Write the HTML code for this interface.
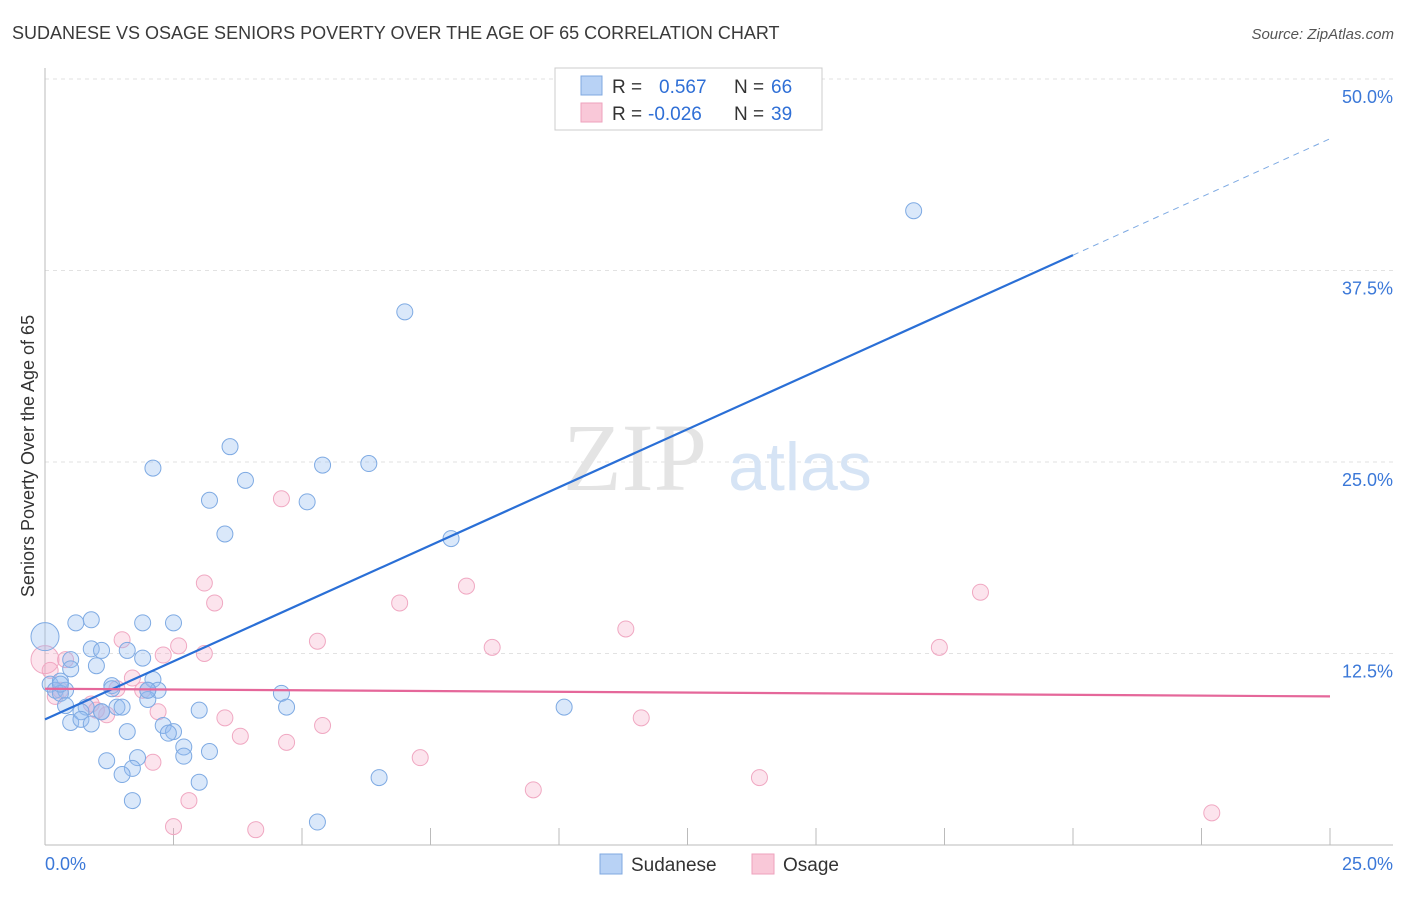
<!DOCTYPE html>
<html><head><meta charset="utf-8"><style>
body{margin:0;background:#fff;font-family:"Liberation Sans",sans-serif}
svg text{font-family:"Liberation Sans",sans-serif}
</style></head><body>
<svg id="c" width="1406" height="892" xmlns="http://www.w3.org/2000/svg">
<text x="12" y="39" font-size="18" fill="#3a3a3a">SUDANESE VS OSAGE SENIORS POVERTY OVER THE AGE OF 65 CORRELATION CHART</text>
<text x="1394" y="39" font-size="15" fill="#555" text-anchor="end" font-style="italic">Source: ZipAtlas.com</text>
<text transform="translate(34,456) rotate(-90)" font-size="18" fill="#333" text-anchor="middle">Seniors Poverty Over the Age of 65</text>
<g id="grid"></g>
<text x="635" y="490" font-size="96" fill="#e4e4e4" text-anchor="middle" style="font-family:'Liberation Serif',serif">ZIP</text>
<text x="800" y="490" font-size="68" fill="#d6e4f5" text-anchor="middle">atlas</text>
<g id="marks"></g>
<g>
<rect x="555" y="68" width="267" height="62" fill="#fff" stroke="#ccc"/>
<rect x="581" y="76" width="21" height="19" fill="#b8d2f5" stroke="#7fa8e0"/>
<rect x="581" y="103" width="21" height="19" fill="#f9c8d8" stroke="#eea2bd"/>
<text x="612" y="93" font-size="19" fill="#333">R = </text><text x="659" y="93" font-size="19" fill="#2f6fd6">0.567</text>
<text x="734" y="93" font-size="19" fill="#333">N = </text><text x="771" y="93" font-size="19" fill="#2f6fd6">66</text>
<text x="612" y="120" font-size="19" fill="#333">R = </text><text x="648" y="120" font-size="19" fill="#2f6fd6">-0.026</text>
<text x="734" y="120" font-size="19" fill="#333">N = </text><text x="771" y="120" font-size="19" fill="#2f6fd6">39</text>
</g>
<g>
<rect x="600" y="854" width="22" height="20" fill="#b8d2f5" stroke="#7fa8e0"/>
<text x="631" y="871" font-size="19" fill="#333">Sudanese</text>
<rect x="752" y="854" width="22" height="20" fill="#f9c8d8" stroke="#eea2bd"/>
<text x="783" y="871" font-size="19" fill="#333">Osage</text>
</g>
</svg>
<script>
const xTicks=[0,2.5,5,7.5,10,12.5,15,17.5,20,22.5,25];
const yTicks=[12.5,25,37.5,50];
const yTickLabels=["12.5%","25.0%","37.5%","50.0%"];
const sudaneseX=[16.9,7.0,3.6,2.1,5.4,6.3,3.9,3.2,5.1,3.5,7.9,0.9,0.6,1.9,2.5,0.0,0.9,1.1,1.6,1.9,0.5,0.5,1.0,2.1,0.1,0.3,0.2,0.4,1.3,1.3,2.0,2.2,4.6,0.3,2.0,0.8,1.4,1.5,1.1,3.0,4.7,10.1,0.7,0.5,0.7,0.9,2.3,1.6,2.5,2.4,2.7,3.2,2.7,1.8,1.2,1.7,1.5,6.5,3.0,1.7,5.3,0.3,1.1,0.4,2.0];
const sudaneseY=[41.4,34.8,26.0,24.6,24.8,24.9,23.8,22.5,22.4,20.3,20.0,14.7,14.5,14.5,14.5,13.6,12.8,12.7,12.7,12.2,12.1,11.5,11.7,10.8,10.5,10.7,10.1,10.1,10.4,10.2,10.1,10.1,9.9,9.9,9.5,9.0,9.0,9.0,8.7,8.8,9.0,9.0,8.7,8.0,8.2,7.9,7.8,7.4,7.4,7.3,6.4,6.1,5.8,5.7,5.5,5.0,4.6,4.4,4.1,2.9,1.5,10.5,8.7,9.1,10.1];
const osageX=[4.6,3.1,8.2,18.2,3.3,6.9,11.3,1.5,5.3,2.6,8.7,17.4,2.3,3.1,0.4,0.1,1.7,1.9,1.4,0.2,0.9,2.2,1.2,3.5,11.6,5.4,3.8,4.7,7.3,2.1,13.9,9.5,2.8,2.5,4.1,22.7,0.3,1.0,0.0];
const osageY=[22.6,17.1,16.9,16.5,15.8,15.8,14.1,13.4,13.3,13.0,12.9,12.9,12.4,12.5,12.1,11.4,10.9,10.1,10.2,9.7,9.2,8.7,8.5,8.3,8.3,7.8,7.1,6.7,5.7,5.4,4.4,3.6,2.9,1.2,1.0,2.1,10.1,8.8,12.1];
const blueFit=[0,8.2,20.0,38.5,25,46.1];
const pinkFit=[0,10.2,25,9.7];
const X=v=>45+v/25*1285, Y=v=>845-v/12.5*191.5;
const NS="http://www.w3.org/2000/svg";
function mk(p,t,a){const e=document.createElementNS(NS,t);for(const k in a)e.setAttribute(k,a[k]);p.appendChild(e);return e;}
const g=document.getElementById('grid'),m=document.getElementById('marks');
yTicks.forEach((v,i)=>{
 const l=mk(g,'line',{x1:45,x2:1393,y1:Y(v),y2:Y(v),stroke:'#e2e2e2','stroke-dasharray':'4,4'});
 
 
 const t=mk(g,'text',{x:1393,y:Y(v)+24,'font-size':18,fill:'#3b78d8','text-anchor':'end'});t.textContent=yTickLabels[i];
 
 
});
mk(g,'line',{x1:45,x2:45,y1:68,y2:845,stroke:'#bbb'});
mk(g,'line',{x1:45,x2:1393,y1:845,y2:845,stroke:'#bbb'});
xTicks.forEach(v=>{const l=mk(g,'line',{x1:X(v),x2:X(v),y1:828,y2:845,stroke:'#bbb'});
 
 });
[["0.0%",45,'start'],["25.0%",1393,'end']].forEach(a=>{const t=mk(g,'text',{x:a[1],y:870,'font-size':18,fill:'#3b78d8','text-anchor':a[2]});t.textContent=a[0];
 
 });
function pts(xs,ys,fill,stroke,name){xs.forEach((x,i)=>{const big=(x===0&&i===xs.length-1)||(name==='sudanese-point'&&i===15);
 const c=mk(m,'circle',{cx:X(x),cy:Y(ys[i]),r:big?14:8,fill:fill,stroke:stroke,'stroke-width':1});
 
 });}
pts(osageX,osageY,'rgba(245,165,195,0.3)','#f0a8c2','osage-point');
pts(sudaneseX,sudaneseY,'rgba(150,190,240,0.35)','#7eaae3','sudanese-point');
let l=mk(m,'line',{x1:X(blueFit[0]),y1:Y(blueFit[1]),x2:X(blueFit[2]),y2:Y(blueFit[3]),stroke:'#2a6fd6','stroke-width':2.2});


l=mk(m,'line',{x1:X(blueFit[2]),y1:Y(blueFit[3]),x2:X(blueFit[4]),y2:Y(blueFit[5]),stroke:'#7eaae3','stroke-width':1,'stroke-dasharray':'6,5'});


l=mk(m,'line',{x1:X(pinkFit[0]),y1:Y(pinkFit[1]),x2:X(pinkFit[2]),y2:Y(pinkFit[3]),stroke:'#e5679a','stroke-width':2.2});


</script>
</body></html>
